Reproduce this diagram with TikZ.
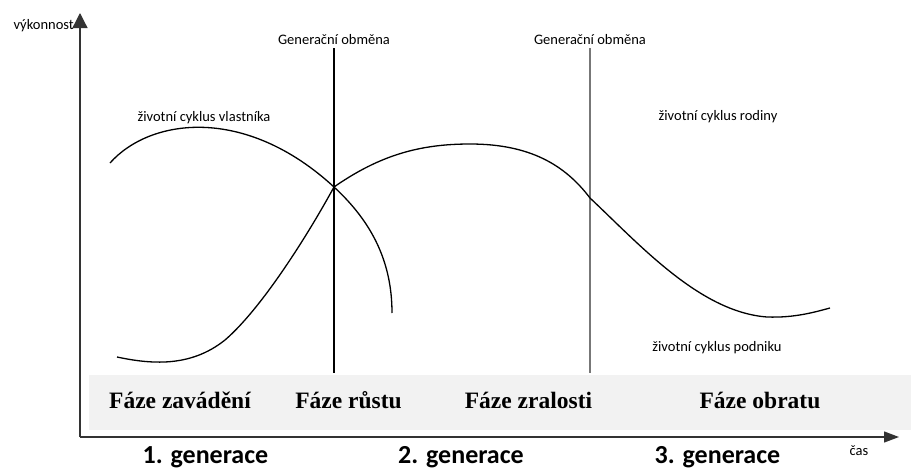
\documentclass[tikz,border=0pt]{standalone}
\usepackage{fontspec}
\setmainfont{Carlito}
\newfontfamily\phasefont{Liberation Serif}
\usetikzlibrary{arrows.meta,positioning}
\definecolor{bandgray}{HTML}{F2F2F2}
\definecolor{linegray}{HTML}{777777}
\definecolor{axisgray}{HTML}{333333}

\begin{document}
\begin{tikzpicture}[x=1pt,y=-1pt,>=Stealth,
  lbl/.style={inner sep=0pt,font=\fontsize{14.5}{17}\selectfont},
  phase/.style={inner sep=0pt,anchor=base,font=\phasefont\bfseries\fontsize{23.5}{28}\selectfont},
  gen/.style={inner sep=0pt,anchor=base,font=\bfseries\fontsize{26}{30}\selectfont},
  curve/.style={line width=1.3pt}]
\useasboundingbox (0,0) rectangle (911,471);
% phases band
\fill[bandgray] (89,375) rectangle (911,430);
\node[phase] (zavadeni) at (180,408) {Fáze zavádění};
\node[phase] (rustu) at (348.5,408) {Fáze růstu};
\node[phase] (zralosti) at (528.5,408) {Fáze zralosti};
\node[phase] (obratu) at (760,408) {Fáze obratu};
% axes
\coordinate (O) at (80,437);\coordinate (Y) at (80,13);\coordinate (X) at (899,437);
\draw[axisgray,line width=1.3pt,-{Triangle[length=15pt,width=15pt]}] (O)--(Y);
\draw[axisgray,line width=1.3pt,-{Triangle[length=15pt,width=11pt]}] (O)--(X);
\node[lbl,anchor=base east] (vykonnost) at (74,29) {výkonnost};
\node[lbl] (cas) at (859,451) {čas};
% generational change
\node[lbl] (obmena1) at (334,40) {Generační obměna};
\node[lbl] (obmena2) at (590,40) {Generační obměna};
\coordinate (d1) at (334,373);\coordinate (d2) at (590,373);
\draw[line width=2pt] (obmena1.south) ++(0,3) -- (d1);
\draw[linegray,line width=1.8pt] (obmena2.south) ++(0,3) -- (d2);
% cycles
\draw[curve] (110,163) .. controls (150,118) and (245,105) .. (334,187)
  .. controls (372,222) and (392,262) .. (392,313);
\draw[curve] (117,357) .. controls (150,364) and (190,368) .. (225,340)
  .. controls (260,310) and (305,240) .. (334,187)
  .. controls (380,155) and (420,144) .. (470,144)
  .. controls (530,144) and (565,165) .. (590,198)
  .. controls (640,245) and (700,312) .. (767,317)
  .. controls (795,318) and (815,312) .. (830,308);
\node[lbl] (vlastnik) at (204,118) {životní cyklus vlastníka};
\node[lbl] (rodina) at (718,117) {životní cyklus rodiny};
\node[lbl] (podnik) at (717,348) {životní cyklus podniku};
% generations
\node[gen] (gen1) at (205.5,463) {1. generace};
\node[gen] (gen2) at (461,463) {2. generace};
\node[gen] (gen3) at (717.5,463) {3. generace};
\end{tikzpicture}
\end{document}
